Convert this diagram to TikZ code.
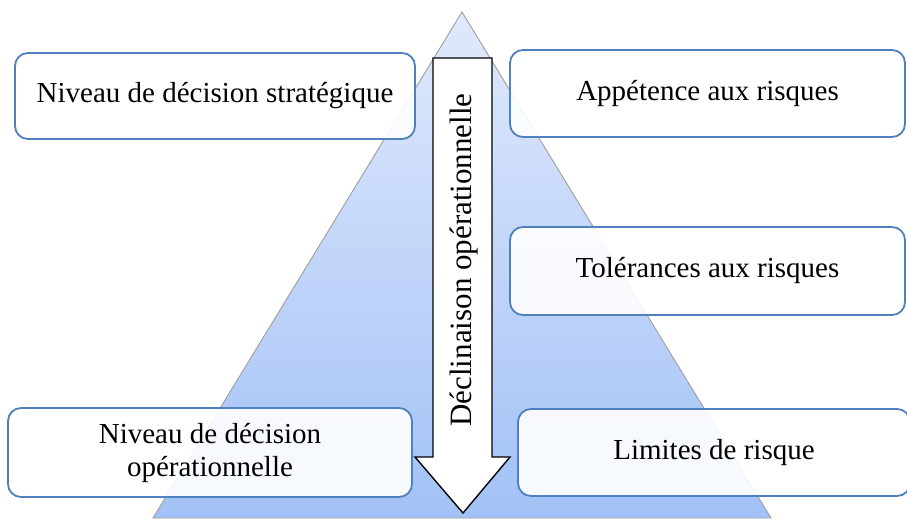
\documentclass[tikz,border=0pt]{standalone}
\usepackage{fontspec}
\setmainfont{Liberation Serif}
\begin{document}
\begin{tikzpicture}[x=1pt,y=-1pt,
  levelbox/.style={draw=boxblue, line width=1.8pt, rounded corners=13pt,
    fill=white, fill opacity=0.9, text opacity=1, align=center,
    font=\fontsize{29}{33}\selectfont, inner sep=0pt},
  flowarrow/.style={draw=black, line width=1.4pt, fill=white, line join=miter},
  pyramid/.style={draw=gray!75, line width=0.9pt, top color=pyrtop, bottom color=pyrbottom}
]
\definecolor{boxblue}{RGB}{79,129,189}
\definecolor{pyrtop}{RGB}{224,233,252}
\definecolor{pyrbottom}{RGB}{162,193,246}
\useasboundingbox (0,0) rectangle (907,522);

% pyramid
\coordinate (apex) at (462,12);
\coordinate (baseL) at (153,518);
\coordinate (baseR) at (771,518);
\shade[pyramid] (apex) -- (baseR) -- (baseL) -- cycle;

% decision levels and risk framework
\node[levelbox, minimum width=400pt, minimum height=86pt] (strat) at (215,96)
  {Niveau de décision stratégique};
\node[levelbox, minimum width=395pt, minimum height=87pt] (appetence) at (707.5,93.5)
  {Appétence aux risques};
\node[levelbox, minimum width=395pt, minimum height=88pt] (tolerance) at (707.5,271)
  {Tolérances aux risques};
\node[levelbox, minimum width=404pt, minimum height=89pt] (operat) at (210,452.5)
  {Niveau de décision\\opérationnelle};
\node[levelbox, minimum width=392pt, minimum height=87pt] (limites) at (714,452.5)
  {Limites de risque};

% downward arrow
\coordinate (tip) at (463,513);
\draw[flowarrow] (433,58) -- (492,58) -- (492,457) -- (510,457) -- (tip)
  -- (415,457) -- (433,457) -- cycle;
\node[rotate=90, font=\fontsize{31}{35}\selectfont, inner sep=0pt] (decl) at (464,260)
  {Déclinaison opérationnelle};
\end{tikzpicture}
\end{document}
